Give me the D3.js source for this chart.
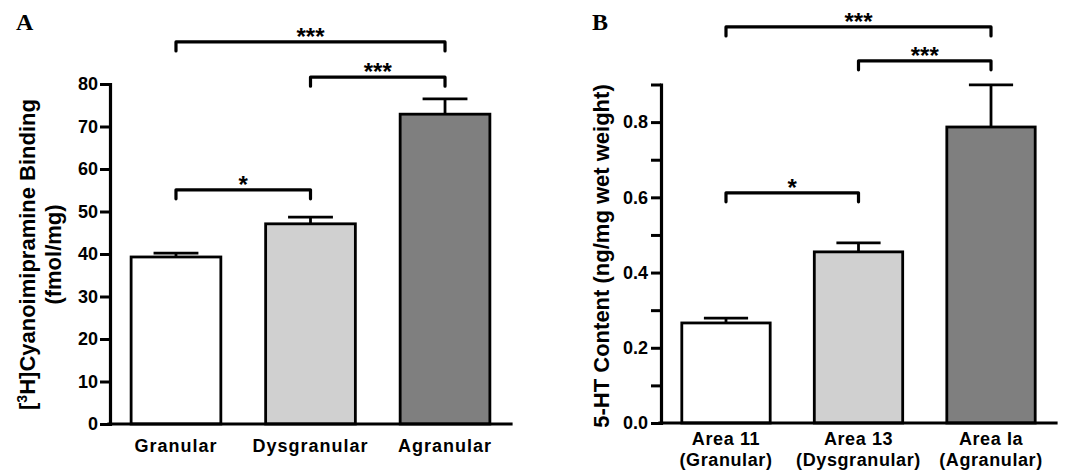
<!DOCTYPE html>
<html><head><meta charset="utf-8">
<script src="https://cdn.jsdelivr.net/npm/d3@7"></script>
<style>body{margin:0;background:#fff} svg{display:block}</style>
</head><body>
<svg id="chart" width="1065" height="475"></svg>
<script>
// ---- Panel A data ----
const categoriesA = ["Granular", "Dysgranular", "Agranular"];
const valuesA = [39.3, 47.1, 72.9];
const errorsA = [0.9, 1.6, 3.6];
const yTicksA = [0, 10, 20, 30, 40, 50, 60, 70, 80];
const sigFromA = [0, 1, 0];
const sigToA = [2, 2, 1];
const sigLevelA = [89.9, 81.6, 55.1];
const sigLabelA = ["***", "***", "*"];

// ---- Panel B data ----
const categoriesB = ["Area 11", "Area 13", "Area Ia"];
const subLabelsB = ["(Granular)", "(Dysgranular)", "(Agranular)"];
const valuesB = [0.266, 0.455, 0.787];
const errorsB = [0.013, 0.024, 0.112];
const yTicksB = [0, 0.1, 0.2, 0.3, 0.4, 0.5, 0.6, 0.7, 0.8, 0.9];
const yLabelTicksB = [0, 0.2, 0.4, 0.6, 0.8];
const sigFromB = [0, 1, 0];
const sigToB = [2, 2, 1];
const sigLevelB = [1.053, 0.963, 0.612];
const sigLabelB = ["***", "***", "*"];

const fills = ["#ffffff", "#d0d0d0", "#7f7f7f"];
const SANS = "'Liberation Sans', Arial, Helvetica, sans-serif";

const svg = d3.select("#chart");

function panel(opts) {
  const g = svg.append("g");
  const x = d3.scaleBand().domain(opts.categories).range(opts.xRange)
    .paddingInner(0.333).paddingOuter(0.157);
  const y = d3.scaleLinear().domain(opts.yDomain).range(opts.yRange);
  const bw = x.bandwidth();
  const cx = c => x(c) + bw / 2;

  // bars
  g.selectAll("rect.bar").data(opts.categories).join("rect")
    .attr("class", "bar")
    .attr("x", c => x(c))
    .attr("y", (c, i) => y(opts.values[i]))
    .attr("width", bw)
    .attr("height", (c, i) => y(0) - y(opts.values[i]))
    .attr("fill", (c, i) => fills[i])
    .attr("stroke", "#000").attr("stroke-width", 2.8);

  // error bars (upper only)
  g.selectAll("line.err").data(opts.categories).join("line")
    .attr("class", "err")
    .attr("x1", cx).attr("x2", cx)
    .attr("y1", (c, i) => y(opts.values[i]))
    .attr("y2", (c, i) => y(opts.values[i] + opts.errors[i]))
    .attr("stroke", "#000").attr("stroke-width", 2.8);
  g.selectAll("line.cap").data(opts.categories).join("line")
    .attr("class", "cap")
    .attr("x1", c => cx(c) - bw * 0.25).attr("x2", c => cx(c) + bw * 0.25)
    .attr("y1", (c, i) => y(opts.values[i] + opts.errors[i]))
    .attr("y2", (c, i) => y(opts.values[i] + opts.errors[i]))
    .attr("stroke", "#000").attr("stroke-width", 2.8);

  // y axis
  const yAxis = d3.axisLeft(y).tickValues(opts.yTicks).tickSize(10)
    .tickPadding(opts.tickPad).tickSizeOuter(0).tickFormat(opts.tickFormat);
  const ya = g.append("g").attr("transform", `translate(${opts.xRange[0]},0)`).call(yAxis);
  ya.select(".domain").attr("stroke-width", 3.2).attr("stroke-linecap", "square");
  ya.selectAll(".tick line").attr("stroke-width", 3);
  ya.selectAll(".tick text").attr("font-family", SANS).attr("font-weight", "bold")
    .attr("font-size", 18).attr("fill", "#000");

  // x axis
  const xAxis = d3.axisBottom(x).tickSize(0).tickSizeOuter(0).tickFormat("");
  const xa = g.append("g").attr("transform", `translate(0,${y(0)})`).call(xAxis);
  xa.select(".domain").attr("stroke-width", 3.2).attr("stroke-linecap", "square")
    .attr("d", `M${opts.xRange[0] - 1},0H${opts.xRange[1]}`);

  // category labels
  g.selectAll("text.cat").data(opts.categories).join("text")
    .attr("class", "cat")
    .attr("x", cx).attr("y", opts.catY)
    .attr("text-anchor", "middle")
    .attr("font-family", SANS).attr("font-weight", "bold").attr("font-size", 18)
    .attr("letter-spacing", opts.catSpacing)
    .text(c => c);
  if (opts.subLabels) {
    g.selectAll("text.sub").data(opts.categories).join("text")
      .attr("class", "sub")
      .attr("x", cx).attr("y", opts.catY + 21)
      .attr("text-anchor", "middle")
      .attr("font-family", SANS).attr("font-weight", "bold").attr("font-size", 18)
      .attr("letter-spacing", opts.catSpacing)
      .text((c, i) => opts.subLabels[i]);
  }

  // significance brackets
  opts.sigLevel.forEach((lv, i) => {
    const x1 = cx(opts.categories[opts.sigFrom[i]]);
    const x2 = cx(opts.categories[opts.sigTo[i]]);
    const yy = y(lv);
    g.append("path")
      .attr("d", `M${x1},${yy + 9}V${yy}H${x2}V${yy + 9}`)
      .attr("fill", "none").attr("stroke", "#000").attr("stroke-width", 3.2)
      .attr("stroke-linecap", "round").attr("stroke-linejoin", "round");
    g.append("text")
      .attr("x", (x1 + x2) / 2).attr("y", yy + 3)
      .attr("text-anchor", "middle")
      .attr("font-family", SANS).attr("font-weight", "bold").attr("font-size", 24)
      .text(opts.sigLabel[i]);
  });

  // panel letter
  g.append("text").attr("x", opts.letterX).attr("y", 30)
    .attr("font-family", "'Liberation Serif', 'Times New Roman', serif")
    .attr("font-weight", "bold").attr("font-size", 24)
    .text(opts.letter);
  return g;
}

const gA = panel({
  categories: categoriesA, values: valuesA, errors: errorsA,
  xRange: [110, 511], yDomain: [0, 80], yRange: [424, 84],
  yTicks: yTicksA, tickFormat: d3.format("d"), tickPad: 2,
  catY: 452, catSpacing: 1,
  sigFrom: sigFromA, sigTo: sigToA, sigLevel: sigLevelA, sigLabel: sigLabelA,
  letter: "A", letterX: 16
});
// y label A
const ylA1 = gA.append("text")
  .attr("transform", "translate(35,254.5) rotate(-90)")
  .attr("text-anchor", "middle")
  .attr("font-family", SANS).attr("font-weight", "bold").attr("font-size", 22);
ylA1.append("tspan").text("[");
ylA1.append("tspan").attr("font-size", 14).attr("dy", -8).text("3");
ylA1.append("tspan").attr("dy", 8).text("H]Cyanoimipramine Binding");
gA.append("text")
  .attr("transform", "translate(61,254.5) rotate(-90)")
  .attr("text-anchor", "middle")
  .attr("font-family", SANS).attr("font-weight", "bold").attr("font-size", 22)
  .text("(fmol/mg)");

const gB = panel({
  categories: categoriesB, subLabels: subLabelsB, values: valuesB, errors: errorsB,
  xRange: [661, 1056], yDomain: [0, 0.9], yRange: [423, 84.5],
  yTicks: yTicksB,
  tickFormat: d => yLabelTicksB.some(v => Math.abs(v - d) < 1e-9) ? d3.format(".1f")(d) : "",
  tickPad: 3,
  catY: 445, catSpacing: 0.6,
  sigFrom: sigFromB, sigTo: sigToB, sigLevel: sigLevelB, sigLabel: sigLabelB,
  letter: "B", letterX: 592
});
gB.append("text")
  .attr("transform", "translate(609,256) rotate(-90)")
  .attr("text-anchor", "middle")
  .attr("font-family", SANS).attr("font-weight", "bold").attr("font-size", 22)
  .text("5-HT Content (ng/mg wet weight)");
</script>
</body></html>
